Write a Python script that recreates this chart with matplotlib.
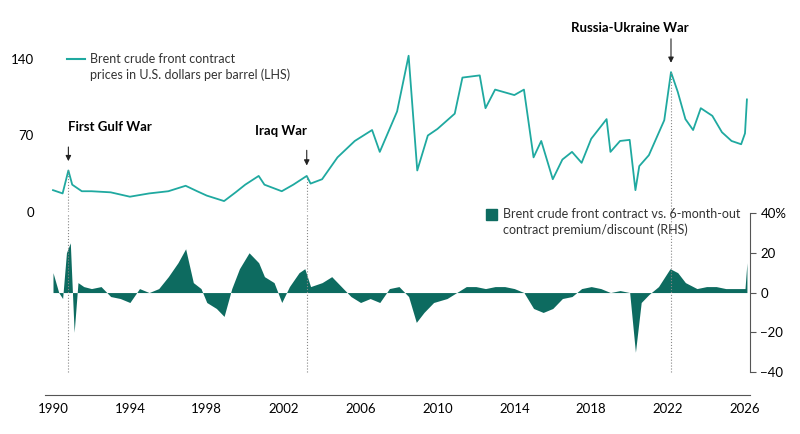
import matplotlib.pyplot as plt
import numpy as np

plt.rcParams['font.family'] = 'Lato'

# Brent front contract price (USD/bbl)
price_year = [1990.0, 1990.5, 1990.8, 1991.0, 1991.5, 1992.0, 1993.0, 1994.0, 1995.0, 1996.0,
              1996.9, 1997.5, 1998.0, 1998.9, 1999.5, 2000.0, 2000.7, 2001.0, 2001.9, 2002.5,
              2003.2, 2003.4, 2004.0, 2004.8, 2005.7, 2006.6, 2007.0, 2007.9, 2008.5, 2008.95,
              2009.5, 2010.0, 2010.9, 2011.3, 2012.2, 2012.5, 2013.0, 2014.0, 2014.5, 2015.0,
              2015.4, 2016.0, 2016.5, 2017.0, 2017.5, 2018.0, 2018.8, 2019.0, 2019.5, 2020.0,
              2020.3, 2020.5, 2021.0, 2021.8, 2022.15, 2022.5, 2022.9, 2023.3, 2023.7, 2024.3,
              2024.8, 2025.3, 2025.8, 2026.0, 2026.1]
price = [20, 17, 38, 25, 19, 19, 18, 14, 17, 19,
         24, 19, 15, 10, 18, 25, 33, 25, 19, 25,
         33, 26, 30, 50, 65, 75, 55, 92, 143, 38,
         70, 76, 90, 123, 125, 95, 112, 107, 112, 50,
         65, 30, 48, 55, 45, 67, 85, 55, 65, 66,
         20, 42, 52, 84, 128, 110, 85, 75, 95, 88,
         73, 65, 62, 72, 103]

# front vs 6-month-out premium/discount (%)
spread_year = [1990.0, 1990.3, 1990.5, 1990.7, 1990.9, 1991.1, 1991.3, 1991.6, 1992.0, 1992.5,
               1993.0, 1993.5, 1994.0, 1994.5, 1995.0, 1995.5, 1996.0, 1996.5, 1996.9, 1997.3,
               1997.7, 1998.0, 1998.5, 1998.9, 1999.3, 1999.7, 2000.2, 2000.7, 2001.0, 2001.5,
               2001.9, 2002.3, 2002.8, 2003.1, 2003.4, 2004.0, 2004.5, 2005.0, 2005.5, 2006.0,
               2006.5, 2007.0, 2007.5, 2008.0, 2008.5, 2008.9, 2009.3, 2009.8, 2010.5, 2011.0,
               2011.5, 2012.0, 2012.5, 2013.0, 2013.5, 2014.0, 2014.5, 2015.0, 2015.5, 2016.0,
               2016.5, 2017.0, 2017.5, 2018.0, 2018.5, 2019.0, 2019.5, 2020.0, 2020.3, 2020.6,
               2021.0, 2021.5, 2022.1, 2022.5, 2022.9, 2023.5, 2024.0, 2024.5, 2025.0, 2025.5,
               2026.0, 2026.1]
spread = [10, 0, -3, 20, 25, -20, 5, 3, 2, 3,
          -2, -3, -5, 2, 0, 2, 8, 15, 22, 5,
          2, -5, -8, -12, 2, 12, 20, 15, 8, 5,
          -5, 3, 10, 12, 3, 5, 8, 3, -2, -5,
          -3, -5, 2, 3, -2, -15, -10, -5, -3, 0,
          3, 3, 2, 3, 3, 2, 0, -8, -10, -8,
          -3, -2, 2, 3, 2, 0, 1, 0, -30, -5,
          -1, 3, 12, 10, 5, 2, 3, 3, 2, 2,
          2, 15]

events = [(1990.8, 38, 'First Gulf War'), (2003.2, 33, 'Iraq War'), (2022.15, 128, 'Russia-Ukraine War')]
xticks = [1990, 1994, 1998, 2002, 2006, 2010, 2014, 2018, 2022, 2026]

line_color = '#1fa9a0'
fill_color = '#0d6b60'
W, H = 800, 434
ppy = (745 - 53) / 36.0
x0 = 1990 - 8 / ppy
x1 = 2026 + 5 / ppy

fig = plt.figure(figsize=(8, 4.34), dpi=100)

# price panel
ax = fig.add_axes([45 / W, 1 - 212 / H, 705 / W, 172 / H])
ax.plot(price_year, price, color=line_color, lw=1.3)
ax.set_xlim(x0, x1)
ax.set_ylim(0, 140 * 172 / 153)
ax.set_yticks([0, 70, 140])
ax.tick_params(axis='y', length=0, labelsize=9.5, pad=8)
ax.set_xticks([])
for s in ax.spines.values():
    s.set_visible(False)
ax.patch.set_alpha(0)

# spread panel
ax2 = fig.add_axes([45 / W, 1 - 395 / H, 705 / W, 182 / H])
ax2.fill_between(spread_year, spread, 0, color=fill_color, lw=0)
ax2.set_xlim(x0, x1)
ax2.set_ylim(-51.5, 40)
ax2.yaxis.tick_right()
ax2.set_yticks([-40, -20, 0, 20, 40])
ax2.set_yticklabels(['−40', '−20', '0', '20', '40%'])
ax2.tick_params(axis='y', length=4, labelsize=9.5, color='#555555')
ax2.set_xticks(xticks)
ax2.tick_params(axis='x', length=0, labelsize=9.5, pad=6)
for k in ['top', 'left']:
    ax2.spines[k].set_visible(False)
ax2.spines['right'].set_bounds(-40, 40)
ax2.spines['right'].set_color('#555555')
ax2.spines['bottom'].set_color('#555555')
ax2.patch.set_alpha(0)

# event markers
for yr, p, name in events:
    ax.vlines(yr, 0, p, colors='#888888', linestyles=':', lw=0.8)
    ax2.vlines(yr, -40, 40, colors='#888888', linestyles=':', lw=0.8)
ax.annotate('', xy=(1990.8, 44), xytext=(1990.8, 62),
            arrowprops=dict(arrowstyle='-|>', color='#222222', lw=0.8, mutation_scale=8))
ax.text(1990.8, 78, 'First Gulf War', fontsize=9.5, fontweight='bold', ha='left', va='center')
ax.annotate('', xy=(2003.2, 40), xytext=(2003.2, 59),
            arrowprops=dict(arrowstyle='-|>', color='#222222', lw=0.8, mutation_scale=8))
ax.text(2003.2, 74, 'Iraq War', fontsize=9.5, fontweight='bold', ha='right', va='center')
ax.annotate('', xy=(2022.15, 134), xytext=(2022.15, 161),
            arrowprops=dict(arrowstyle='-|>', color='#222222', lw=0.8, mutation_scale=8),
            annotation_clip=False)
fig.text(630 / W, 1 - 28 / H, 'Russia-Ukraine War', fontsize=9.5, fontweight='bold', ha='center', va='center')

# legends
fig.add_artist(plt.Line2D([67 / W, 85 / W], [1 - 59 / H, 1 - 59 / H], color=line_color, lw=1.5))
fig.text(90 / W, 1 - 67 / H, 'Brent crude front contract\nprices in U.S. dollars per barrel (LHS)',
         fontsize=9, va='center', ha='left', linespacing=1.3, color='#333333')
fig.add_artist(plt.Rectangle((486 / W, 1 - 220 / H), 11 / W, 11 / H, color=fill_color))
fig.text(503 / W, 1 - 222 / H, 'Brent crude front contract vs. 6-month-out\ncontract premium/discount (RHS)',
         fontsize=9, va='center', ha='left', linespacing=1.3, color='#333333')

fig.savefig('out.png', dpi=100)
